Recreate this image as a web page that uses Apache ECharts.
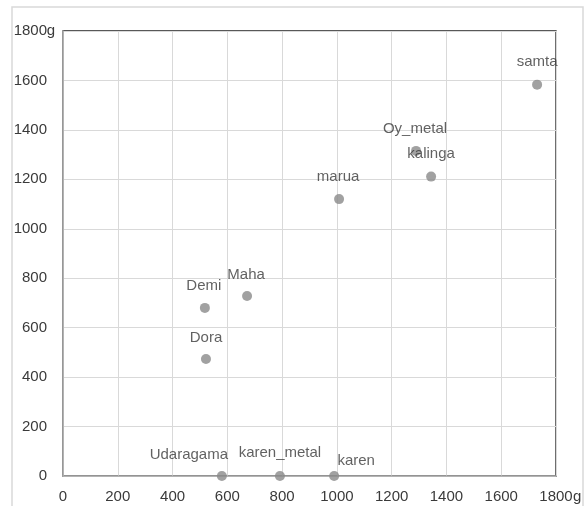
<!DOCTYPE html>
<html><head><meta charset="utf-8">
<script src="https://cdn.jsdelivr.net/npm/echarts@6/dist/echarts.min.js"></script>
<style>html,body{margin:0;padding:0;background:#fff}#c{width:588px;height:506px}</style>
</head><body><div id="c"></div>
<script>
const names = ['Udaragama','karen_metal','karen','Dora','Demi','Maha','marua','Oy_metal','kalinga','samta'];
const xValues = [580, 792, 990, 522, 518, 672, 1008, 1289, 1344, 1731];
const yValues = [0, 0, 0, 473, 680, 728, 1120, 1315, 1211, 1583];
const labelOffsets = [[-33,-21],[0,-23],[22,-15],[0,-21],[-1,-22],[-1,-21],[-1,-22],[-1,-22],[0,-23],[0,-23]];
const axisMax = 1800;
const axisStep = 200;
const unit = 'g';

const font = 'Liberation Sans';
const fs = 15;
const txt = '#3a3a3a';
const symSize = 10;

const chart = echarts.init(document.getElementById('c'));
chart.setOption({
  animation: false,
  backgroundColor: '#fff',
  graphic: [{ type: 'rect', shape: { x: 12, y: 7, width: 571, height: 520 }, style: { fill: 'none', stroke: '#d9d9d9', lineWidth: 1.5 }, silent: true, z: -1 }],
  grid: { left: 63, top: 31, right: 32, bottom: 30, show: true, borderColor: '#222', borderWidth: 1.3, backgroundColor: 'transparent' },
  xAxis: {
    type: 'value', min: 0, max: axisMax, interval: axisStep,
    name: unit, nameLocation: 'end', nameGap: 17, nameMoveOverlap: false,
    nameTextStyle: { fontFamily: font, fontSize: fs, color: txt, align: 'left', verticalAlign: 'top', padding: [13, 0, 0, 0] },
    axisLine: { show: true, onZero: false, lineStyle: { color: '#a6a6a6', width: 1.5 } },
    axisTick: { show: false },
    splitLine: { show: true, lineStyle: { color: '#d9d9d9', width: 1 } },
    axisLabel: { margin: 13, fontFamily: font, fontSize: fs, color: txt, showMaxLabel: true, formatter: v => String(v) }
  },
  yAxis: {
    type: 'value', min: 0, max: axisMax, interval: axisStep,
    name: unit, nameLocation: 'end', nameGap: 0, nameMoveOverlap: false,
    nameTextStyle: { fontFamily: font, fontSize: fs, color: txt, align: 'right', verticalAlign: 'middle', padding: [0, 8, 0, 0] },
    axisLine: { show: true, onZero: false, lineStyle: { color: '#a6a6a6', width: 1.5 } },
    axisTick: { show: false },
    splitLine: { show: true, lineStyle: { color: '#d9d9d9', width: 1 } },
    axisLabel: { margin: 16, fontFamily: font, fontSize: fs, color: txt, showMaxLabel: true, formatter: v => String(v) }
  },
  series: [{
    type: 'scatter',
    symbolSize: symSize,
    itemStyle: { color: '#8a8a8a' },
    data: names.map((n, i) => ({
      name: n,
      value: [xValues[i], yValues[i]],
      label: { position: [symSize / 2 + labelOffsets[i][0], symSize / 2 + labelOffsets[i][1]], align: 'center', verticalAlign: 'middle' }
    })),
    label: { show: true, formatter: p => p.name, fontFamily: font, fontSize: fs, color: txt },
    labelLayout: { hideOverlap: false },
    clip: false
  }]
});
</script></body></html>
